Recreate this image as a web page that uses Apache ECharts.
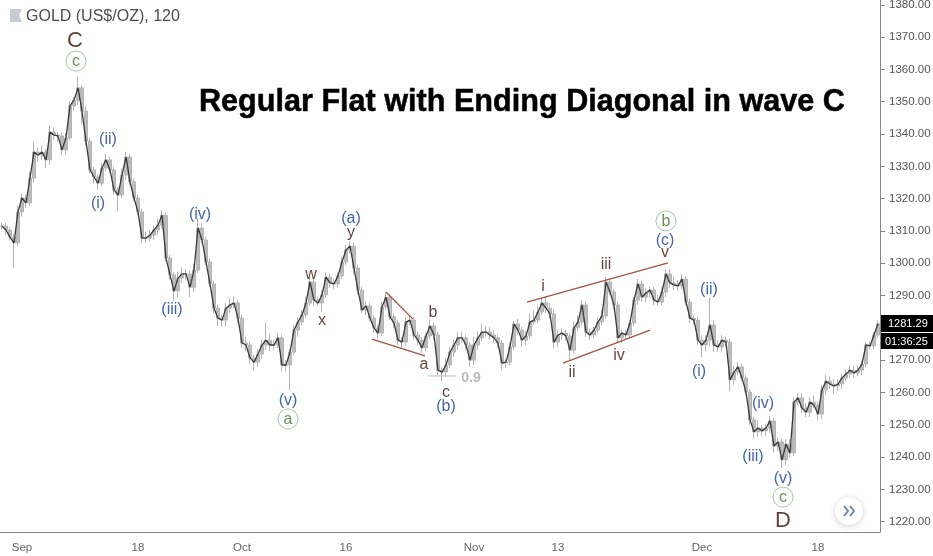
<!DOCTYPE html>
<html>
<head>
<meta charset="utf-8">
<title>Gold</title>
<style>
html, body { margin: 0; padding: 0; background: #fff; }
#main { width: 933px; height: 556px; }
</style>
<script src="https://cdn.jsdelivr.net/npm/echarts@6/dist/echarts.min.js"></script>
</head>
<body>
<div id="main"></div>
<script>
// closing price of each bar
var closes = [
    1311.5,1310.3,1308.1,1306.3,1315.9,1320.2,1318.7,1326.4,1334.4,1333.5,1334.4,1332.0,1340.6,1339.7,1339.4,1335.1,1338.8,1348.7,1350.5,1354.3,
    1347.1,1337.8,1328.9,1326.7,1324.8,1329.5,1332.0,1328.9,1322.7,1321.1,1327.3,1332.9,1325.2,1320.2,1315.9,1307.8,1307.8,1308.7,1310.3,1311.8,
    1314.9,1301.6,1296.4,1291.4,1295.4,1296.7,1296.7,1292.6,1297.9,1310.9,1307.2,1300.4,1293.6,1286.1,1283.0,1282.4,1286.1,1287.1,1287.7,1283.0,
    1275.3,1274.7,1270.7,1269.4,1271.9,1274.7,1276.2,1274.7,1274.7,1276.9,1268.5,1268.5,1272.5,1279.3,1281.8,1284.0,1287.7,1294.2,1288.6,1287.7,
    1290.2,1295.7,1293.9,1293.6,1296.1,1300.4,1304.1,1305.3,1298.5,1291.7,1285.5,1286.8,1283.0,1280.0,1278.4,1286.5,1289.5,1283.4,1281.5,1276.2,
    1275.6,1281.8,1282.4,1277.8,1276.2,1273.8,1277.5,1280.6,1277.8,1266.9,1266.3,1268.5,1272.5,1274.7,1276.9,1276.9,1274.7,1270.0,1274.7,1276.9,
    1278.7,1278.7,1277.8,1276.9,1275.3,1269.1,1269.4,1274.1,1281.2,1279.3,1276.2,1277.5,1281.8,1282.4,1284.9,1287.7,1286.1,1284.3,1275.6,1277.8,
    1278.4,1277.5,1273.1,1280.0,1281.8,1287.1,1278.7,1277.8,1279.3,1281.8,1283.7,1294.2,1291.1,1287.1,1276.9,1278.4,1277.8,1281.5,1288.6,1293.6,
    1289.5,1290.8,1291.7,1288.6,1288.0,1291.1,1296.7,1293.9,1293.3,1293.0,1295.1,1288.0,1283.0,1282.4,1276.2,1274.7,1276.2,1280.9,1274.7,1274.1,
    1276.2,1275.6,1263.9,1266.3,1267.9,1264.5,1260.1,1251.5,1247.8,1249.0,1248.1,1249.0,1251.2,1243.4,1244.7,1239.1,1244.0,1241.3,1257.0,1258.3,
    1255.2,1253.9,1257.0,1256.1,1253.3,1260.8,1263.5,1262.6,1262.0,1262.6,1264.5,1265.7,1266.9,1266.0,1266.9,1268.8,1274.7,1274.4,1277.8,1281.29
];

// how far each bar's wick reaches above and below its body
var upperWick = [
    1,1,.8,1,2,1.5,1,2,3,1.5,2,1,2,1.5,1,1,1.5,1.5,1,3.5,
    .8,1.5,1,1,1,1.5,2,1,1,1,2,1.5,1,1,1,1,2,1.5,1.5,2,
    1.5,1,1,1,2,2,1.5,1,2,3,1.5,1,1,1,1,1,1.5,2,2,1,
    1,2,1,1,1.5,1.5,5.5,2,1.5,1.5,1,1.5,1,1.5,1.5,1.5,2,1.5,1,1,
    1.5,1.5,1,1.5,1,1.5,1.5,1.5,1,1,1,1.5,1,1,1,1.5,1.5,1,1,1,
    1,1.5,1.5,1,1,1,1,2,1,1,1,2,1.5,1.5,2,2,1,1,2.5,2,
    2.5,2,1.5,1.5,1,1,1,1.5,1,1.5,1,1.5,2.5,3,2,1.5,2,1.5,1.5,1.5,
    1.5,1,1,2,2,1.5,1,1,1,1.5,2,1.5,1,1,1,1,1,1,1,1.5,
    1,1.5,1,1,1.5,1.5,1.5,1.5,2,1.5,1.5,1,1,1,1,1.5,1.5,8.5,1.5,1.5,
    1.5,1,1,2,1.5,1,1,1,1,2.5,1,1,1.5,1,1.5,1,1.5,1.5,1.5,1.5,
    1.5,1.5,1.5,2,1,1.5,2,1.5,1.5,1.5,1.5,1.5,1.5,1.5,1.5,1,1,1,1,1
];
var lowerWick = [
    1,1.5,1,7.8,1,1.5,1.5,1,1.5,2,1.5,2.5,1.5,1.5,2,1.5,1.5,1,1.5,1.5,
    4,1.5,1,2,2,1,1,1,1.5,5,1,1.5,1,1,1,1.5,1.5,1,1.5,1.5,
    1,1,1.5,3,2,1.5,2,3,1.5,1,1,1,1,1.5,2.5,2,2,1.5,1,1.5,
    1.5,2,2,2.5,1.5,1.5,1.5,2,1.5,1,2,2,7.7,1,2,1,1,1,1.5,1,
    2.8,1,1.5,1.5,1,1,1,1,2,1.5,1,1.5,1,1.5,1.5,1,1,1,1.5,1.5,
    2,1,1,1.5,1.5,1.5,1,1,1.5,1.5,2.8,1.5,1,1.5,1.5,1.5,1.5,2,1.5,1.5,
    1,1.5,1.5,1.5,1.5,2,1.5,1,1,1.5,2,1.5,1,1,1,1,1.5,1.5,2,1.5,
    1.5,1.5,3,1,1,1,1.5,1.5,1,1,1,1,1,1.5,1.5,1.5,1.5,1,1,1.5,
    1.5,1.5,1.5,1.5,1,1,1.5,1.5,1.5,1.5,1,1,1.5,1.5,1.5,3.7,2,2,2,1.5,
    1.5,1.5,3.5,1.5,1,1,1,1.5,2,1.5,1.5,1.5,1.5,2,1.5,2.5,1.5,1.5,1,1,
    1.5,1.5,1.5,1,2,1.5,1.5,1.5,2.5,1.5,1.5,1,1,1.5,1,1.5,1,1,1,1
];

var priceTicks = [1220,1230,1240,1250,1260,1270,1280,1290,1300,1310,1320,1330,1340,1350,1360,1370,1380];
var dateBars = [5,34,60,86,118,139,175,204];
var dateLabels = ['Sep','18','Oct','16','Nov','13','Dec','18'];

// wave counts: text, bar position, price
var blueWaves = [
    ['(i)',24.5,1319.0],['(ii)',27,1338.8],['(iii)',43,1286.1],['(iv)',50,1315.5],['(v)',72,1258.0],
    ['(a)',87.75,1314.3],['(b)',111.5,1256.1],['(c)',166.25,1307.5],['(ii)',177.25,1292.3],['(i)',174.75,1267.0],
    ['(iv)',190.75,1257.0],['(iii)',188.25,1240.6],['(v)',195.75,1233.8]
];
var brownWaves = [
    ['w',77.75,1297.0],['x',80.5,1282.7],['y',87.75,1310.0],['a',106,1269.1],['b',108.25,1285.2],['c',111.5,1260.4],
    ['i',135.75,1293.3],['ii',143,1266.6],['iii',151.5,1300.1],['iv',154.75,1271.9],['v',166.25,1303.8]
];
var circledWaves = [['c',19,1362.6],['a',72,1251.8],['b',166.5,1313.1],['c',195.75,1227.6]];
var majorWaves = [['C',18.75,1369.4],['D',195.75,1220.8]];
var fibLabel = [['0.9',117.75,1264.8]];

// drawn lines: [bar, price] pairs
var trendLines = [
    [[96.5,1291.1],[103.25,1282.7]],
    [[93,1276.5],[106.25,1271.3]],
    [[131.75,1288.0],[167,1300.1]],
    [[140.75,1269.1],[162.5,1279.3]]
];
var fibLine = [[107,1265.1],[114,1265.1]];

var barNames = closes.map(function (c, i) {
    var k = dateBars.indexOf(i);
    return k >= 0 ? dateLabels[k] : '';
});
var candles = closes.map(function (c, i) {
    var open = i > 0 ? closes[i - 1] : c;
    return [open, c, Math.min(open, c) - lowerWick[i], Math.max(open, c) + upperWick[i]];
});
function isDateBar(i) { return dateBars.indexOf(i) >= 0; }

function labelSeries(rows, color, size, weight) {
    return {
        type: 'scatter', xAxisIndex: 1, data: rows, symbolSize: 1, silent: true, z: 6,
        itemStyle: { color: 'transparent' },
        label: {
            show: true, position: 'inside', color: color, fontSize: size,
            fontWeight: weight || 'normal', offset: [0, 1.5],
            fontFamily: 'Liberation Sans',
            formatter: function (p) { return p.value[0]; }
        },
        encode: { x: 1, y: 2 }
    };
}
function lineSeries(points, color, width) {
    return {
        type: 'line', xAxisIndex: 1, data: points, showSymbol: false, silent: true, z: 5,
        lineStyle: { color: color, width: width }, encode: { x: 0, y: 1 }
    };
}

var myChart = echarts.init(document.getElementById('main'));
var option = {
    animation: false,
    title: [
        {
            text: 'Regular Flat with Ending Diagonal in wave C', left: 194, top: 82,
            textStyle: { fontFamily: 'Liberation Sans', fontWeight: 'bold', fontSize: 30.6, color: '#000', textBorderColor: '#000', textBorderWidth: 0.5 }
        },
        {
            text: 'GOLD (US$/OZ), 120', left: 21, top: 4,
            textStyle: { fontFamily: 'Liberation Sans', fontWeight: 'normal', fontSize: 16, color: '#4d4d4d' }
        }
    ],
    grid: { left: 0, right: 53, top: 0, bottom: 24, outerBoundsMode: 'none' },
    xAxis: [
        {
            type: 'category', data: barNames, boundaryGap: true,
            axisLine: { lineStyle: { color: '#888', width: 1 } },
            axisTick: { alignWithLabel: true, interval: function (i) { return isDateBar(i); }, length: 4, lineStyle: { color: '#888' } },
            axisLabel: { interval: function (i) { return isDateBar(i); }, color: '#666', fontSize: 11.5, margin: 10, fontFamily: 'Liberation Sans' },
            splitLine: { show: false }
        },
        { type: 'value', min: 0, max: 220, show: false, splitLine: { show: false } }
    ],
    yAxis: {
        type: 'value', position: 'right', min: 1216.8, max: 1381.5,
        axisLine: { show: true, onZero: false, lineStyle: { color: '#888', width: 1 } },
        axisTick: { show: true, customValues: priceTicks, length: 5, lineStyle: { color: '#888' } },
        axisLabel: {
            customValues: priceTicks, color: '#555', fontSize: 11.5, margin: 9, fontFamily: 'Liberation Sans',
            formatter: function (v) { return v.toFixed(2); }
        },
        splitLine: { show: false }
    },
    series: [
        {
            type: 'candlestick', data: candles, barWidth: 3, silent: true, z: 2,
            itemStyle: { color: '#bdbdbd', color0: '#bdbdbd', borderColor: '#b4b4b4', borderColor0: '#b4b4b4', borderWidth: 1 }
        },
        {
            type: 'line', data: closes, showSymbol: false, silent: true, z: 3,
            lineStyle: { color: '#3a3a3a', width: 1.3 }
        },
        lineSeries(trendLines[0], '#a5523f', 1.3),
        lineSeries(trendLines[1], '#a5523f', 1.3),
        lineSeries(trendLines[2], '#a5523f', 1.3),
        lineSeries(trendLines[3], '#a5523f', 1.3),
        lineSeries(fibLine, '#bbb', 1),
        labelSeries(blueWaves, '#0f3d96', 16),
        labelSeries(brownWaves, '#3f100a', 16),
        labelSeries(majorWaves, '#3d0c05', 22),
        labelSeries(fibLabel, '#aaa', 14, 'bold'),
        {
            type: 'scatter', xAxisIndex: 1, data: circledWaves, symbolSize: 20, silent: true, z: 6,
            encode: { x: 1, y: 2 },
            itemStyle: { color: '#fff', borderColor: '#8fbb8f', borderWidth: 1 },
            label: {
                show: true, position: 'inside', color: '#3f7a2e', fontSize: 16, offset: [0, 0.5], fontFamily: 'Liberation Sans',
                formatter: function (p) { return p.value[0]; }
            }
        }
    ],
    graphic: [
        { type: 'polygon', z: 100, shape: { points: [[10,9],[22,9],[19,15.5],[22,22],[10,22]] }, style: { fill: '#c9cbd6' } },
        { type: 'rect', z: 100, shape: { x: 881, y: 315, width: 52, height: 17 }, style: { fill: '#000' } },
        { type: 'rect', z: 100, shape: { x: 881, y: 333, width: 52, height: 16 }, style: { fill: '#000' } },
        { type: 'text', z: 101, style: { x: 888, y: 318, text: '1281.29', fill: '#fff', font: '11px "Liberation Sans"' } },
        { type: 'text', z: 101, style: { x: 885, y: 336, text: '01:36:25', fill: '#fff', font: '11px "Liberation Sans"' } },
        {
            type: 'circle', z: 100, shape: { cx: 849, cy: 511, r: 14 },
            style: { fill: '#fff', shadowBlur: 6, shadowColor: 'rgba(0,0,0,0.2)', shadowOffsetY: 1 }
        },
        { type: 'polyline', z: 101, shape: { points: [[844,506],[848,511],[844,516]] }, style: { stroke: '#6d87a8', lineWidth: 2, fill: null } },
        { type: 'polyline', z: 101, shape: { points: [[850,506],[854,511],[850,516]] }, style: { stroke: '#6d87a8', lineWidth: 2, fill: null } }
    ]
};
myChart.setOption(option);
</script>
</body>
</html>
